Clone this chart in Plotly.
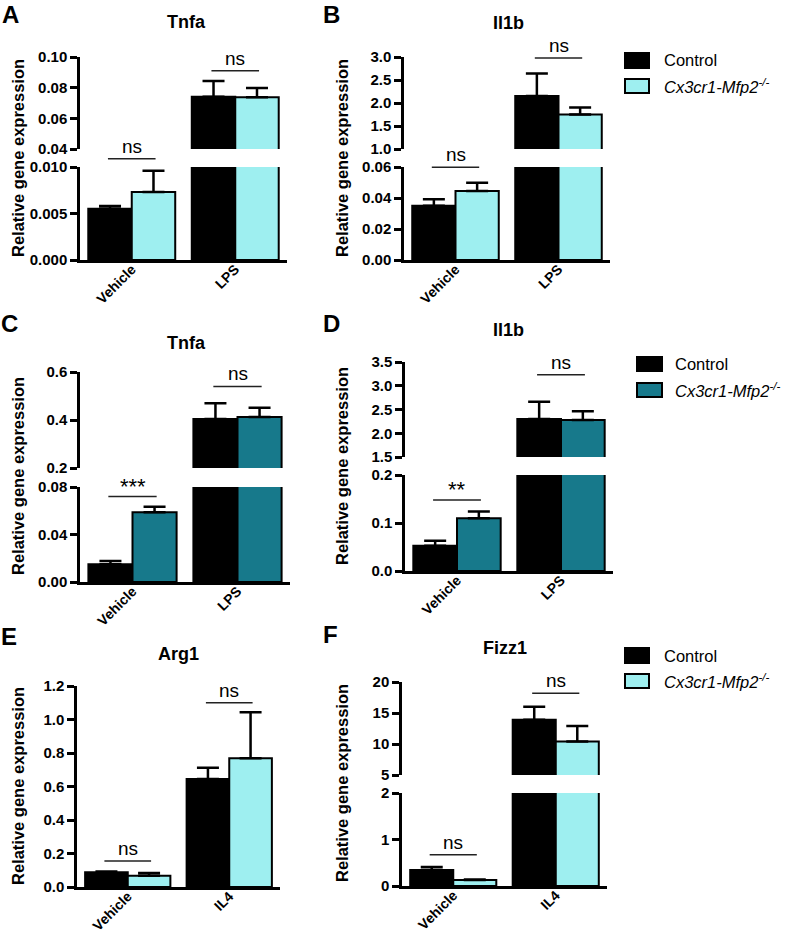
import plotly.graph_objects as go

W, H = 786, 935
FONT = "Liberation Sans, Arial, Helvetica, sans-serif"

# ---------------- data ----------------
series_names = ["Control", "<i>Cx3cr1-Mfp2</i><sup><i>-/-</i></sup>"]

lps_categories = ["Vehicle", "LPS"]
il4_categories = ["Vehicle", "IL4"]

# A  Tnfa (first LPS experiment)
a_control = [0.0055, 0.0740]
a_control_err = [0.0003, 0.0103]
a_mutant = [0.0073, 0.0737]
a_mutant_err = [0.0023, 0.0061]
a_sig = ["ns", "ns"]

# B  Il1b (first LPS experiment)
b_control = [0.0350, 2.15]
b_control_err = [0.0042, 0.49]
b_mutant = [0.0445, 1.75]
b_mutant_err = [0.0054, 0.15]
b_sig = ["ns", "ns"]

# C  Tnfa (second LPS experiment)
c_control = [0.0149, 0.404]
c_control_err = [0.0028, 0.066]
c_mutant = [0.0587, 0.4125]
c_mutant_err = [0.0047, 0.039]
c_sig = ["***", "ns"]

# D  Il1b (second LPS experiment)
d_control = [0.0527, 2.30]
d_control_err = [0.0103, 0.364]
d_mutant = [0.110, 2.28]
d_mutant_err = [0.0137, 0.183]
d_sig = ["**", "ns"]

# E  Arg1 (IL4)
e_control = [0.088, 0.645]
e_control_err = [0.004, 0.067]
e_mutant = [0.067, 0.768]
e_mutant_err = [0.017, 0.275]
e_sig = ["ns", "ns"]

# F  Fizz1 (IL4)
f_control = [0.344, 13.9]
f_control_err = [0.066, 2.1]
f_mutant = [0.13, 10.4]
f_mutant_err = [0.01, 2.5]
f_sig = ["ns", "ns"]

# tick labels
a_ticks_high = [0.04, 0.06, 0.08, 0.10]
a_ticks_high_text = ["0.04", "0.06", "0.08", "0.10"]
a_ticks_low = [0.0, 0.005, 0.010]
a_ticks_low_text = ["0.000", "0.005", "0.010"]
b_ticks_high = [1.0, 1.5, 2.0, 2.5, 3.0]
b_ticks_high_text = ["1.0", "1.5", "2.0", "2.5", "3.0"]
b_ticks_low = [0.0, 0.02, 0.04, 0.06]
b_ticks_low_text = ["0.00", "0.02", "0.04", "0.06"]
c_ticks_high = [0.2, 0.4, 0.6]
c_ticks_high_text = ["0.2", "0.4", "0.6"]
c_ticks_low = [0.0, 0.04, 0.08]
c_ticks_low_text = ["0.00", "0.04", "0.08"]
d_ticks_high = [1.5, 2.0, 2.5, 3.0, 3.5]
d_ticks_high_text = ["1.5", "2.0", "2.5", "3.0", "3.5"]
d_ticks_low = [0.0, 0.1, 0.2]
d_ticks_low_text = ["0.0", "0.1", "0.2"]
e_ticks = [0.0, 0.2, 0.4, 0.6, 0.8, 1.0, 1.2]
e_ticks_text = ["0.0", "0.2", "0.4", "0.6", "0.8", "1.0", "1.2"]
f_ticks_high = [5, 10, 15, 20]
f_ticks_high_text = ["5", "10", "15", "20"]
f_ticks_low = [0, 1, 2]
f_ticks_low_text = ["0", "1", "2"]

# ---------------- styling / layout config ----------------
CYAN = "#9eeff0"
TEAL = "#17798b"
BLACK = "#000000"

panels = [
    dict(letter="A", title="Tnfa", cats=lps_categories, ctrl=a_control, ctrl_err=a_control_err,
         mut=a_mutant, mut_err=a_mutant_err, sig=a_sig, color=CYAN,
         xpx=[80, 287], high=dict(px=[57, 149], rng=[0.04, 0.10], tv=a_ticks_high, tt=a_ticks_high_text),
         low=dict(px=[167, 260], rng=[0.0, 0.010], tv=a_ticks_low, tt=a_ticks_low_text),
         brackets=[("low", 0.0109), ("high", 0.091)],
         title_pos=(186, 22), letter_pos=(10, 14), ytitle_pos=(18, 158),
         legend=dict(box_x=[625, 649], rows=[(53, 68), (79, 93)], text_x=662)),
    dict(letter="B", title="Il1b", cats=lps_categories, ctrl=b_control, ctrl_err=b_control_err,
         mut=b_mutant, mut_err=b_mutant_err, sig=b_sig, color=CYAN,
         xpx=[404, 610], high=dict(px=[57, 149], rng=[1.0, 3.0], tv=b_ticks_high, tt=b_ticks_high_text),
         low=dict(px=[167, 260], rng=[0.0, 0.06], tv=b_ticks_low, tt=b_ticks_low_text),
         brackets=[("low", 0.0599), ("high", 2.98)],
         title_pos=(508, 23), letter_pos=(331, 14), ytitle_pos=(342, 158), legend=None),
    dict(letter="C", title="Tnfa", cats=lps_categories, ctrl=c_control, ctrl_err=c_control_err,
         mut=c_mutant, mut_err=c_mutant_err, sig=c_sig, color=TEAL,
         xpx=[80, 290], high=dict(px=[372, 468], rng=[0.2, 0.6], tv=c_ticks_high, tt=c_ticks_high_text),
         low=dict(px=[487, 582], rng=[0.0, 0.08], tv=c_ticks_low, tt=c_ticks_low_text),
         brackets=[("low", 0.072), ("high", 0.54)],
         title_pos=(186, 343), letter_pos=(9, 324), ytitle_pos=(18, 476), legend=None),
    dict(letter="D", title="Il1b", cats=lps_categories, ctrl=d_control, ctrl_err=d_control_err,
         mut=d_mutant, mut_err=d_mutant_err, sig=d_sig, color=TEAL,
         xpx=[405, 613], high=dict(px=[362, 457], rng=[1.5, 3.5], tv=d_ticks_high, tt=d_ticks_high_text),
         low=dict(px=[475, 571], rng=[0.0, 0.2], tv=d_ticks_low, tt=d_ticks_low_text),
         brackets=[("low", 0.148), ("high", 3.23)],
         title_pos=(508, 330), letter_pos=(331, 324), ytitle_pos=(342, 466),
         legend=dict(box_x=[637, 662], rows=[(357, 371), (383, 397)], text_x=673)),
    dict(letter="E", title="Arg1", cats=il4_categories, ctrl=e_control, ctrl_err=e_control_err,
         mut=e_mutant, mut_err=e_mutant_err, sig=e_sig, color=CYAN,
         xpx=[77, 280], high=None,
         low=dict(px=[686, 887], rng=[0.0, 1.2], tv=e_ticks, tt=e_ticks_text),
         brackets=[("low", 0.155), ("low", 1.10)],
         title_pos=(178, 654), letter_pos=(9, 636), ytitle_pos=(18, 786), legend=None),
    dict(letter="F", title="Fizz1", cats=il4_categories, ctrl=f_control, ctrl_err=f_control_err,
         mut=f_mutant, mut_err=f_mutant_err, sig=f_sig, color=CYAN,
         xpx=[402, 607], high=dict(px=[682, 775], rng=[5, 20], tv=f_ticks_high, tt=f_ticks_high_text),
         low=dict(px=[793, 886], rng=[0, 2], tv=f_ticks_low, tt=f_ticks_low_text),
         brackets=[("low", 0.67), ("high", 18.2)],
         title_pos=(505, 648), letter_pos=(330, 634), ytitle_pos=(342, 783),
         legend=dict(box_x=[625, 649], rows=[(648, 663), (674, 688)], text_x=662)),
]

XR = [-0.5, 1.5]
fig = go.Figure()
layout = {}
shapes = []
annotations = []
counter = [0]


def px_x(v):
    return v / W


def px_y(v):
    return 1 - v / H


def add_segment(p, seg, show_x, match_id):
    counter[0] += 1
    n = counter[0]
    s = "" if n == 1 else str(n)
    xa = dict(domain=[px_x(p["xpx"][0]), px_x(p["xpx"][1])], range=XR, anchor="y" + s,
              type="category", categoryorder="array", categoryarray=p["cats"],
              showgrid=False, zeroline=False, fixedrange=True, automargin=False)
    if show_x:
        xa.update(showline=True, linewidth=2.5, linecolor="black", ticks="", tickangle=-45,
                  ticklabelstandoff=-7,
                  tickfont=dict(family=FONT, size=14, color="black", weight="bold"))
    else:
        xa.update(visible=False, matches=match_id)
    ya = dict(domain=[px_y(seg["px"][1]), px_y(seg["px"][0])], range=seg["rng"], anchor="x" + s,
              showgrid=False, zeroline=False, showline=True, linewidth=2.5, linecolor="black",
              ticks="outside", ticklen=7, tickwidth=2.5, tickcolor="black",
              tickvals=seg["tv"], ticktext=seg["tt"], fixedrange=True, automargin=False,
              tickfont=dict(family=FONT, size=15, color="black", weight="bold"))
    layout["xaxis" + s] = xa
    layout["yaxis" + s] = ya
    for name, vals, errs, fill in [(series_names[0], p["ctrl"], p["ctrl_err"], BLACK),
                                   (series_names[1], p["mut"], p["mut_err"], p["color"])]:
        fig.add_trace(go.Bar(
            x=p["cats"], y=vals, name=name, xaxis="x" + s, yaxis="y" + s,
            marker=dict(color=fill, line=dict(color="black", width=2)),
            error_y=dict(type="data", symmetric=False, array=errs, arrayminus=[0] * len(errs),
                         color="black", thickness=2.5, width=11),
            showlegend=False, hoverinfo="skip"))
    return n, s


for p in panels:
    n_low, s_low = add_segment(p, p["low"], True, None)
    segs = {"low": (s_low, p["low"]["rng"])}
    if p["high"] is not None:
        n_high, s_high = add_segment(p, p["high"], False, "x" + s_low)
        segs["high"] = (s_high, p["high"]["rng"])

    # significance brackets
    for i, ((segname, yv), label) in enumerate(zip(p["brackets"], p["sig"])):
        s, rng = segs[segname]
        yf = (yv - rng[0]) / (rng[1] - rng[0])
        x0 = (i - 0.23 - XR[0]) / (XR[1] - XR[0])
        x1 = (i + 0.23 - XR[0]) / (XR[1] - XR[0])
        xref = ("x" + s + " domain").strip()
        yref = ("y" + s + " domain").strip()
        shapes.append(dict(type="line", xref=xref, yref=yref, x0=x0, x1=x1, y0=yf, y1=yf,
                           line=dict(color="#222222", width=1.5)))
        star = label.startswith("*")
        annotations.append(dict(xref=xref, yref=yref, x=(x0 + x1) / 2, y=yf, text=label,
                                showarrow=False, xanchor="center", yanchor="bottom",
                                yshift=-4 if star else 0,
                                font=dict(family=FONT, size=22 if star else 19, color="black")))

    # titles
    annotations.append(dict(xref="paper", yref="paper", x=px_x(p["title_pos"][0]), y=px_y(p["title_pos"][1]),
                            text="<b>%s</b>" % p["title"], showarrow=False, xanchor="center", yanchor="middle",
                            font=dict(family=FONT, size=18, color="black")))
    annotations.append(dict(xref="paper", yref="paper", x=px_x(p["letter_pos"][0]), y=px_y(p["letter_pos"][1]),
                            text="<b>%s</b>" % p["letter"], showarrow=False, xanchor="center", yanchor="middle",
                            font=dict(family=FONT, size=24, color="black")))
    annotations.append(dict(xref="paper", yref="paper", x=px_x(p["ytitle_pos"][0]), y=px_y(p["ytitle_pos"][1]),
                            text="<b>Relative gene expression</b>", showarrow=False, textangle=-90,
                            xanchor="center", yanchor="middle",
                            font=dict(family=FONT, size=16.5, color="black")))

    # legend
    lg = p["legend"]
    if lg:
        for (y0, y1), name, fill in zip(lg["rows"], series_names, [BLACK, p["color"]]):
            shapes.append(dict(type="rect", xref="paper", yref="paper",
                               x0=px_x(lg["box_x"][0]), x1=px_x(lg["box_x"][1]),
                               y0=px_y(y1), y1=px_y(y0), fillcolor=fill,
                               line=dict(color="black", width=2)))
            annotations.append(dict(xref="paper", yref="paper", x=px_x(lg["text_x"]), y=px_y((y0 + y1) / 2),
                                    text=name, showarrow=False, xanchor="left", yanchor="middle",
                                    font=dict(family=FONT, size=16.5, color="black")))

fig.update_layout(layout)
fig.update_layout(width=W, height=H, autosize=False, margin=dict(l=0, r=0, t=0, b=0, autoexpand=False),
                  paper_bgcolor="white", plot_bgcolor="white",
                  barmode="group", bargap=0.16, bargroupgap=0,
                  shapes=shapes, annotations=annotations, showlegend=False)

fig.write_html("out.html", config={"displayModeBar": False, "responsive": False},
               post_script="document.body.style.margin='0px';document.body.style.padding='0px';")
